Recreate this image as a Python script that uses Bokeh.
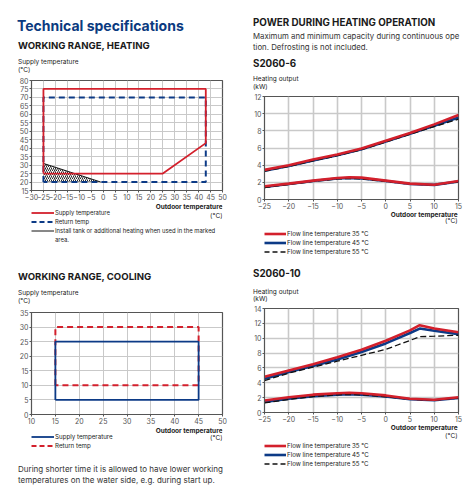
from bokeh.plotting import figure
from bokeh.layouts import column, row
from bokeh.models import Label, Legend, LegendItem, FixedTicker, Div
from bokeh.embed import file_html
from bokeh.resources import INLINE

# ---------------- data ----------------
# Working range, heating (outdoor temp, supply temp)
heat_supply_x = [-25, -25, 43, 43, 25, -25]
heat_supply_y = [25, 75, 75, 43, 25, 25]
heat_return_x = [-25, -25, 43, 43, -25]
heat_return_y = [20, 70, 70, 20, 20]
heat_marked_x = [-25, -25, -1]
heat_marked_y = [31, 20, 20]
heat_marked_edge_x = [-25, -1]
heat_marked_edge_y = [31, 20]
heat_xticks = list(range(-30, 55, 5))
heat_yticks = list(range(15, 85, 5))

# Working range, cooling
cool_supply_x = [15, 15, 45, 45, 15]
cool_supply_y = [5, 25, 25, 5, 5]
cool_return_x = [15, 15, 45, 45, 15]
cool_return_y = [10, 30, 30, 10, 10]
cool_xticks = list(range(10, 55, 5))
cool_yticks = list(range(0, 40, 5))

# S2060-6 heating output (kW)
s6_max_x = [-25, -20, -15, -10, -5, 0, 5, 10, 15]
s6_max_35 = [3.45, 4.0, 4.65, 5.25, 5.95, 6.85, 7.75, 8.75, 9.85]
s6_max_45 = [3.35, 3.9, 4.55, 5.15, 5.85, 6.75, 7.65, 8.6, 9.55]
s6_max_55 = [3.3, 3.85, 4.5, 5.1, 5.8, 6.7, 7.6, 8.5, 9.35]
s6_min_x = [-25, -20, -15, -10, -7.5, -5, 0, 5, 10, 15]
s6_min_35 = [1.55, 1.85, 2.2, 2.5, 2.6, 2.55, 2.2, 1.85, 1.72, 2.15]
s6_min_45 = [1.45, 1.8, 2.15, 2.45, 2.5, 2.45, 2.15, 1.8, 1.7, 2.1]
s6_min_55 = [1.4, 1.75, 2.1, 2.4, 2.45, 2.4, 2.1, 1.8, 1.7, 2.05]

# S2060-10 heating output (kW)
s10_max_x = [-25, -20, -15, -10, -5, 0, 5, 7, 10, 15]
s10_max_35 = [4.8, 5.65, 6.5, 7.45, 8.45, 9.65, 11.05, 11.75, 11.3, 10.8]
s10_max_45 = [4.55, 5.45, 6.25, 7.15, 8.15, 9.3, 10.7, 11.3, 11.0, 10.55]
s10_max_55 = [4.3, 5.3, 6.1, 6.9, 7.7, 8.5, 9.7, 10.2, 10.27, 10.4]
s10_min_x = [-25, -20, -15, -10, -7.5, -5, 0, 5, 10, 15]
s10_min_35 = [1.62, 2.05, 2.4, 2.6, 2.65, 2.6, 2.3, 1.85, 1.72, 2.05]
s10_min_45 = [1.42, 1.85, 2.2, 2.4, 2.45, 2.4, 2.15, 1.78, 1.65, 1.95]
s10_min_55 = [1.3, 1.75, 2.15, 2.38, 2.42, 2.38, 2.12, 1.78, 1.65, 1.95]

out_xticks = list(range(-25, 20, 5))
s6_yticks = list(range(0, 14, 2))
s10_yticks = list(range(0, 16, 2))

legend_heat = ["Supply temperature", "Return temp",
               "Install tank or additional heating when used in the marked", "area."]
legend_cool = ["Supply temperature", "Return temp"]
legend_flow = ["Flow line temperature 35 °C", "Flow line temperature 45 °C",
               "Flow line temperature 55 °C"]

# ---------------- style ----------------
RED = "#d3202c"
BLUE = "#0c3a86"
NAVY = "#0b3a80"
GRID = "#c9c9c9"
BLACK = "#111111"
FONT = "Inter"


def chart(w, h, bl, br, xr, yr, xt, yt, grid_w=1.0):
    p = figure(width=w, height=h, x_range=xr, y_range=yr, output_backend="svg",
               toolbar_location=None, min_border_left=bl, min_border_right=br,
               min_border_top=5, min_border_bottom=12)
    p.xaxis.ticker = FixedTicker(ticks=xt)
    p.yaxis.ticker = FixedTicker(ticks=yt)
    for ax in (p.xaxis[0], p.yaxis[0]):
        ax.axis_line_color = "#555555"
        ax.major_tick_line_color = "#555555"
        ax.major_tick_out = 2
        ax.major_tick_in = 0
        ax.minor_tick_line_color = None
        ax.major_label_text_font = FONT
        ax.major_label_text_font_size = "7px"
        ax.major_label_text_color = "#555555"
        ax.major_label_standoff = 1
    p.xgrid.grid_line_color = GRID
    p.ygrid.grid_line_color = GRID
    p.xgrid.grid_line_width = grid_w
    p.ygrid.grid_line_width = grid_w
    p.outline_line_color = "#555555"
    p.outline_line_width = 1.2
    return p


def legend_fig(w, h, bl, br):
    # a text/legend strip; its ranges sit outside every series, so the proxy
    # renderers below only show up as legend swatches
    f = figure(width=w, height=h, x_range=(0, 1), y_range=(-1, 0), output_backend="svg",
               toolbar_location=None, x_axis_type=None, y_axis_type=None,
               min_border_left=bl, min_border_right=br, min_border_top=0, min_border_bottom=0)
    f.outline_line_color = None
    f.grid.visible = False
    return f


def lbl(f, x, y, text, align="right", bold=True):
    f.add_layout(Label(x=x, y=y, x_units="screen", y_units="screen", text=text,
                       text_font=FONT, text_font_size="6.5px",
                       text_font_style="bold" if bold else "normal",
                       text_color="#222222", text_align=align, text_baseline="middle"))


def add_legend(f, items, loc, gw, size="6.2px", standoff=1):
    f.add_layout(Legend(items=items, location=loc, orientation="vertical",
                        padding=0, spacing=0, margin=0, glyph_width=gw, glyph_height=9,
                        label_height=9, label_standoff=standoff, label_text_font=FONT,
                        label_text_font_size=size, label_text_color="#222222",
                        border_line_color=None, background_fill_alpha=0), "center")


def span(x, yc, text, size, lh, bold=False, color="#222222"):
    return (f'<span style="position:absolute;left:{x}px;top:{yc - lh / 2}px;'
            f'font-family:Inter,sans-serif;font-size:{size}px;line-height:{lh}px;'
            f'font-weight:{700 if bold else 400};color:{color};white-space:nowrap;">{text}</span>')


def text_div(w, h, spans):
    html = (f'<div style="position:relative;width:{w}px;height:{h}px;overflow:hidden;">'
            + "".join(spans) + "</div>")
    return Div(text=html, width=w, height=h, margin=0)


# ---------- left column ----------
div1 = text_div(231, 75, [
    span(17, 25, "Technical specifications", 14, 17, bold=True, color=NAVY),
    span(18, 46, "WORKING RANGE, HEATING", 9.6, 12, bold=True, color="#1a1a1a"),
    span(18, 62, "Supply temperature", 6.5, 8),
    span(18, 70, "(°C)", 6.5, 8),
])

p1 = chart(231, 127, 31, 9, (-30, 50), (15, 80), heat_xticks, heat_yticks)
p1.patch(heat_marked_x, heat_marked_y, fill_alpha=0, line_color=None,
         hatch_pattern="/", hatch_color=BLACK, hatch_scale=4, hatch_weight=0.9)
p1.line(heat_return_x, heat_return_y, line_color=BLUE, line_width=2, line_dash="6 4")
p1.line(heat_marked_edge_x, heat_marked_edge_y, line_color=BLACK, line_width=1)
p1.line(heat_supply_x, heat_supply_y, line_color=RED, line_width=1.8)

leg1 = legend_fig(231, 58, 31, 9)
g_sup = leg1.line(heat_supply_x, heat_supply_y, line_color=RED, line_width=1.8)
g_ret = leg1.line(heat_return_x, heat_return_y, line_color=BLUE, line_width=2, line_dash="5 3")
g_edge = leg1.line(heat_marked_edge_x, heat_marked_edge_y, line_color=BLACK, line_width=1)
g_blank = leg1.line(heat_marked_edge_x, heat_marked_edge_y, line_alpha=0)
lbl(leg1, 191, 54, "Outdoor temperature")
lbl(leg1, 191, 45, "(°C)", bold=False)
add_legend(leg1, [LegendItem(label=legend_heat[0], renderers=[g_sup]),
                  LegendItem(label=legend_heat[1], renderers=[g_ret]),
                  LegendItem(label=legend_heat[2], renderers=[g_edge]),
                  LegendItem(label=legend_heat[3], renderers=[g_blank])], (0, 16), 23,
           size="5.9px")

div2 = text_div(231, 47, [
    span(18, 17.3, "WORKING RANGE, COOLING", 9.6, 12, bold=True, color="#1a1a1a"),
    span(18, 33.3, "Supply temperature", 6.5, 8),
    span(18, 41.3, "(°C)", 6.5, 8),
])

p3 = chart(231, 119, 31, 9, (10, 50), (0, 35), cool_xticks, cool_yticks)
p3.line(cool_return_x, cool_return_y, line_color=RED, line_width=2, line_dash="6 4")
p3.line(cool_supply_x, cool_supply_y, line_color=BLUE, line_width=1.8)

leg3 = legend_fig(231, 26, 31, 9)
c_sup = leg3.line(cool_supply_x, cool_supply_y, line_color=BLUE, line_width=1.8)
c_ret = leg3.line(cool_return_x, cool_return_y, line_color=RED, line_width=2, line_dash="5 3")
lbl(leg3, 191, 22, "Outdoor temperature")
lbl(leg3, 191, 14.5, "(°C)", bold=False)
add_legend(leg3, [LegendItem(label=legend_cool[0], renderers=[c_sup]),
                  LegendItem(label=legend_cool[1], renderers=[c_ret])], (0, 2), 23)

div3 = text_div(231, 48, [
    span(18, 17, "During shorter time it is allowed to have lower working", 8, 11, color="#333333"),
    span(18, 28, "temperatures on the water side, e.g. during start up.", 8, 11, color="#333333"),
])

# ---------- right column ----------
div4 = text_div(232, 91, [
    span(22, 23, "POWER DURING HEATING OPERATION", 9.8, 12, bold=True, color="#1a1a1a"),
    span(22, 36, "Maximum and minimum capacity during continuous ope", 7.8, 10, color="#333333"),
    span(22, 47, "tion. Defrosting is not included.", 7.8, 10, color="#333333"),
    span(22, 64, "S2060-6", 9.8, 12, bold=True, color="#1a1a1a"),
    span(22, 79, "Heating output", 6.5, 8),
    span(22, 87.3, "(kW)", 6.5, 8),
])

p2 = chart(232, 120, 33, 5, (-25, 15), (0, 12), out_xticks, s6_yticks, grid_w=1.6)
p2.line(s6_max_x, s6_max_45, line_color=BLUE, line_width=2.6)
p2.line(s6_min_x, s6_min_45, line_color=BLUE, line_width=2.6)
p2.line(s6_max_x, s6_max_55, line_color=BLACK, line_width=1.3, line_dash="6 3")
p2.line(s6_min_x, s6_min_55, line_color=BLACK, line_width=1.3, line_dash="6 3")
p2.line(s6_max_x, s6_max_35, line_color=RED, line_width=2.6)
p2.line(s6_min_x, s6_min_35, line_color=RED, line_width=2.6)

leg2 = legend_fig(232, 49, 33, 5)
f35a = leg2.line(s6_max_x, s6_max_35, line_color=RED, line_width=2.6)
f45a = leg2.line(s6_max_x, s6_max_45, line_color=BLUE, line_width=2.6)
f55a = leg2.line(s6_max_x, s6_max_55, line_color=BLACK, line_width=1.3, line_dash="5 3")
lbl(leg2, 193, 46, "Outdoor temperature")
lbl(leg2, 193, 39.3, "(°C)", bold=False)
add_legend(leg2, [LegendItem(label=legend_flow[0], renderers=[f35a]),
                  LegendItem(label=legend_flow[1], renderers=[f45a]),
                  LegendItem(label=legend_flow[2], renderers=[f55a])], (0, 4), 22)

div5 = text_div(232, 43, [
    span(22, 14, "S2060-10", 9.8, 12, bold=True, color="#1a1a1a"),
    span(22, 32, "Heating output", 6.5, 8),
    span(22, 39.5, "(kW)", 6.5, 7),
])

p4 = chart(232, 121, 33, 5, (-25, 15), (0, 14), out_xticks, s10_yticks, grid_w=1.6)
p4.line(s10_max_x, s10_max_45, line_color=BLUE, line_width=2.6)
p4.line(s10_min_x, s10_min_45, line_color=BLUE, line_width=2.6)
p4.line(s10_max_x, s10_max_55, line_color=BLACK, line_width=1.3, line_dash="6 3")
p4.line(s10_min_x, s10_min_55, line_color=BLACK, line_width=1.3, line_dash="6 3")
p4.line(s10_max_x, s10_max_35, line_color=RED, line_width=2.6)
p4.line(s10_min_x, s10_min_35, line_color=RED, line_width=2.6)

leg4 = legend_fig(232, 76, 33, 5)
f35b = leg4.line(s10_max_x, s10_max_35, line_color=RED, line_width=2.6)
f45b = leg4.line(s10_max_x, s10_max_45, line_color=BLUE, line_width=2.6)
f55b = leg4.line(s10_max_x, s10_max_55, line_color=BLACK, line_width=1.3, line_dash="5 3")
lbl(leg4, 193, 72.5, "Outdoor temperature")
lbl(leg4, 193, 65, "(°C)", bold=False)
add_legend(leg4, [LegendItem(label=legend_flow[0], renderers=[f35b]),
                  LegendItem(label=legend_flow[1], renderers=[f45b]),
                  LegendItem(label=legend_flow[2], renderers=[f55b])], (0, 32), 22)

layout = row(column(div1, p1, leg1, div2, p3, leg3, div3),
             column(div4, p2, leg2, div5, p4, leg4))
open("out.html", "w").write(file_html(layout, INLINE))
